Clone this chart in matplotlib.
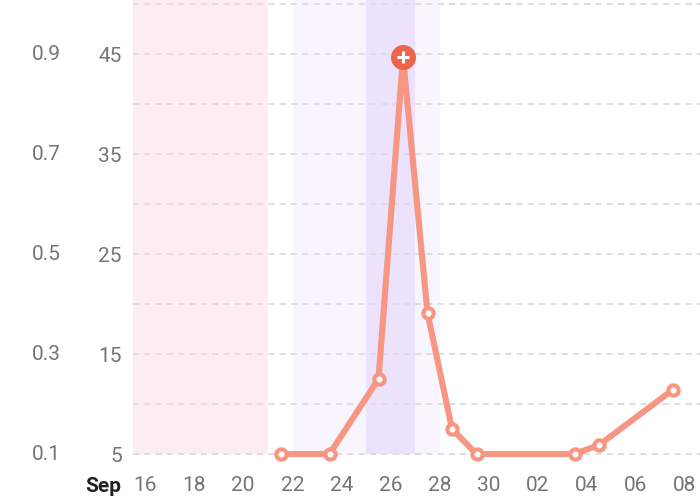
import matplotlib
matplotlib.use('Agg')
import matplotlib.pyplot as plt
import matplotlib.dates as mdates
import matplotlib.transforms as mtransforms
import pandas as pd

plt.rcParams['font.family'] = ['Roboto', 'DejaVu Sans']

# ---- data ----
dates = ['2023-09-22', '2023-09-24', '2023-09-26', '2023-09-27', '2023-09-28',
         '2023-09-29', '2023-09-30', '2023-10-04', '2023-10-05', '2023-10-08']
values = [5, 5, 12.5, 44.7, 19.1, 7.5, 5, 5, 5.9, 11.4]
peak_index = 3

left_ticks = [5, 15, 25, 35, 45]
left_labels = ['5', '15', '25', '35', '45']
ratio_labels = ['0.1', '0.3', '0.5', '0.7', '0.9']
minor_ticks = [10, 20, 30, 40, 50]

x_tick_dates = pd.date_range('2023-09-16', '2023-10-08', freq='2D')
month_label = 'Sep'

pink_band = ('2023-09-14', '2023-09-21 12:00')
light_purple_band = ('2023-09-22 12:00', '2023-09-28 12:00')
dark_purple_band = ('2023-09-25 12:00', '2023-09-27 12:00')

# ---- figure ----
W, H = 700, 501
fig = plt.figure(figsize=(W / 100, H / 100), dpi=100)
ax_left, ax_right, ax_top, ax_bottom = 133, 700, 0, 465
ax = fig.add_axes([ax_left / W, (H - ax_bottom) / H,
                   (ax_right - ax_left) / W, (ax_bottom - ax_top) / H])

x = pd.to_datetime(dates)
x0 = pd.Timestamp('2023-09-16')
px_per_day = 24.5
ax.set_xlim(x0 - pd.Timedelta(days=0.5 / px_per_day),
            x0 + pd.Timedelta(days=(ax_right - ax_left - 0.5) / px_per_day))
ymin, ymax = 3.9, 50.4
ax.set_ylim(ymin, ymax)

band_bottom = 5
for (a, b), col, z in [(pink_band, '#fdecf2', 0), (light_purple_band, '#f8f5fe', 0),
                       (dark_purple_band, '#ece2fc', 0.5)]:
    ax.fill_between([pd.Timestamp(a), pd.Timestamp(b)], band_bottom, ymax + 1,
                    color=col, lw=0, zorder=z)

ax.set_yticks(left_ticks)
ax.set_yticklabels(left_labels)
ax.set_yticks(minor_ticks, minor=True)
ax.yaxis.grid(True, which='both', linestyle=(0, (3.2, 2.6)), color='#e0dde0', lw=1.4)
ax.set_axisbelow(True)

ax.plot(x, values, color='#f79682', lw=4.4, marker='o', ms=7.4, mfc='white',
        mec='#f79682', mew=3.0, solid_joinstyle='round', solid_capstyle='round', zorder=3)
ax.plot([x[peak_index]], [values[peak_index]], 'o', ms=17, color='#f0644b', mec='#f0644b', zorder=4)
ax.plot([x[peak_index]], [values[peak_index]], marker='+', ms=8, mew=2.2, color='white', zorder=5)

ax.set_xticks(x_tick_dates)
ax.xaxis.set_major_formatter(mdates.DateFormatter('%d'))
for lbl in ax.get_xticklabels():
    lbl.set_ha('left')

ax.tick_params(axis='both', which='both', length=0, labelsize=15, colors='#757575')
ax.tick_params(axis='y', pad=8)
ax.tick_params(axis='x', pad=8)
for s in ax.spines.values():
    s.set_visible(False)

trans = mtransforms.blended_transform_factory(fig.transFigure, ax.transData)
for v, lab in zip(left_ticks, ratio_labels):
    ax.text(46 / W, v, lab, transform=trans, ha='center', va='center',
            fontsize=15, color='#757575', clip_on=False)

fig.text(121 / W, 1 - 487 / H, month_label, ha='right', va='center',
         fontsize=15, fontweight='bold', color='#222222')

fig.savefig('out.png', dpi=100)
